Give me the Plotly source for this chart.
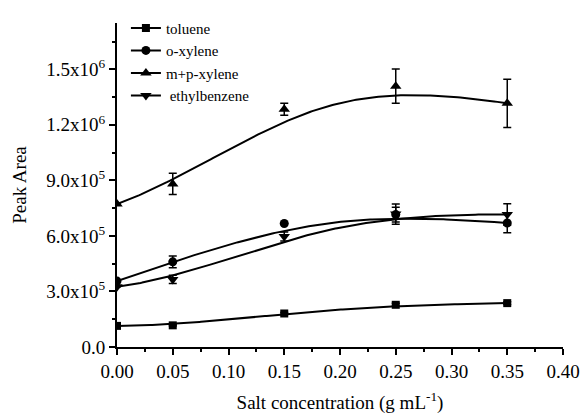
import numpy as np
import plotly.graph_objects as go

x = [0.00, 0.05, 0.15, 0.25, 0.35]
toluene = [1.14e5, 1.17e5, 1.81e5, 2.28e5, 2.37e5]
toluene_err = [4e3, 4e3, 6e3, 8e3, 8e3]
o_xylene = [3.56e5, 4.60e5, 6.67e5, 7.15e5, 6.70e5]
o_xylene_err = [0, 3.2e4, 0, 4e4, 5.3e4]
mp_xylene = [7.72e5, 8.81e5, 1.284e6, 1.409e6, 1.316e6]
mp_xylene_err = [0, 5.7e4, 3.2e4, 9.2e4, 1.3e5]
ethylbenzene = [3.25e5, 3.65e5, 5.97e5, 7.18e5, 7.16e5]
ethylbenzene_err = [0, 2.2e4, 2.4e4, 5.5e4, 5.8e4]

names = ["toluene", "o-xylene", "m+p-xylene", " ethylbenzene"]
symbols = ["square", "circle", "triangle-up", "triangle-down"]
sizes = [8, 9, 10, 10]
series = [toluene, o_xylene, mp_xylene, ethylbenzene]
errors = [toluene_err, o_xylene_err, mp_xylene_err, ethylbenzene_err]

ytick_vals = [0, 3e5, 6e5, 9e5, 1.2e6, 1.5e6]
ytick_text = ["0.0", "3.0x10<sup>5</sup>", "6.0x10<sup>5</sup>", "9.0x10<sup>5</sup>",
              "1.2x10<sup>6</sup>", "1.5x10<sup>6</sup>"]
xtick_vals = [0.0, 0.05, 0.10, 0.15, 0.20, 0.25, 0.30, 0.35, 0.40]
xtick_text = ["0.00", "0.05", "0.10", "0.15", "0.20", "0.25", "0.30", "0.35", "0.40"]


def bspline(px, py, degree=3, npts=200):
    """Clamped B-spline using the data points as control points (Origin-style)."""
    px = np.asarray(px, float)
    py = np.asarray(py, float)
    n = len(px)
    inner = np.linspace(0, 1, n - degree + 1)[1:-1]
    knots = np.concatenate([np.zeros(degree + 1), inner, np.ones(degree + 1)])
    t = np.linspace(0, 1, npts)
    t[-1] = 1 - 1e-12

    def basis(i, k, tt):
        if k == 0:
            return np.where((knots[i] <= tt) & (tt < knots[i + 1]), 1.0, 0.0)
        out = np.zeros_like(tt)
        d1 = knots[i + k] - knots[i]
        d2 = knots[i + k + 1] - knots[i + 1]
        if d1 > 0:
            out += (tt - knots[i]) / d1 * basis(i, k - 1, tt)
        if d2 > 0:
            out += (knots[i + k + 1] - tt) / d2 * basis(i + 1, k - 1, tt)
        return out

    B = np.array([basis(i, degree, t) for i in range(n)])
    return B.T @ px, B.T @ py


FONT = "Liberation Serif"
tick_font = dict(family=FONT, size=19, color="black")

fig = go.Figure()
for name, sym, sz, ys, er in zip(names, symbols, sizes, series, errors):
    cx, cy = bspline(x, ys)
    fig.add_trace(go.Scatter(x=cx, y=cy, mode="lines",
                             line=dict(color="black", width=2), showlegend=False,
                             hoverinfo="skip"))
    fig.add_trace(go.Scatter(x=x, y=ys, mode="markers", showlegend=False,
                             marker=dict(symbol=sym, size=sz, color="black"),
                             error_y=dict(type="data", array=er, color="black",
                                          thickness=1.5, width=4)))
    fig.add_trace(go.Scatter(x=[None], y=[None], mode="lines+markers", name=name,
                             marker=dict(symbol=sym, size=sz, color="black"),
                             line=dict(color="black", width=2)))

fig.update_layout(
    width=581, height=417,
    margin=dict(l=117, r=18, t=14, b=70),
    plot_bgcolor="white", paper_bgcolor="white",
    font=dict(family=FONT, size=19, color="black"),
    legend=dict(x=0.02, y=1.035, xanchor="left", yanchor="top",
                bgcolor="rgba(0,0,0,0)", font=dict(size=15, family=FONT, color="black"),
                tracegroupgap=0, itemwidth=30),
    xaxis=dict(range=[0, 0.40], tickvals=xtick_vals, ticktext=xtick_text,
               tickfont=tick_font,
               ticks="outside", ticklen=6, tickwidth=1.5, tickcolor="black",
               showline=True, linecolor="black", linewidth=2, showgrid=False,
               zeroline=False, automargin=False,
               minor=dict(ticks="outside", ticklen=3, tickwidth=1.5, dtick=0.025,
                          tickcolor="black", showgrid=False),
               title=dict(text="Salt concentration (g mL<sup>-1</sup>)",
                          font=dict(family=FONT, size=19, color="black"))),
    yaxis=dict(range=[0, 1.75e6], tickvals=ytick_vals, ticktext=ytick_text,
               tickfont=tick_font,
               ticks="outside", ticklen=6, tickwidth=1.5, tickcolor="black",
               showline=True, linecolor="black", linewidth=2, showgrid=False,
               zeroline=False, automargin=False,
               minor=dict(ticks="outside", ticklen=3, tickwidth=1.5,
                          tickvals=[1.5e5, 4.5e5, 7.5e5, 1.05e6, 1.35e6, 1.65e6],
                          tickcolor="black", showgrid=False),
               title=dict(text="Peak Area",
                          font=dict(family=FONT, size=19, color="black"))),
)
fig.write_html("out.html")
